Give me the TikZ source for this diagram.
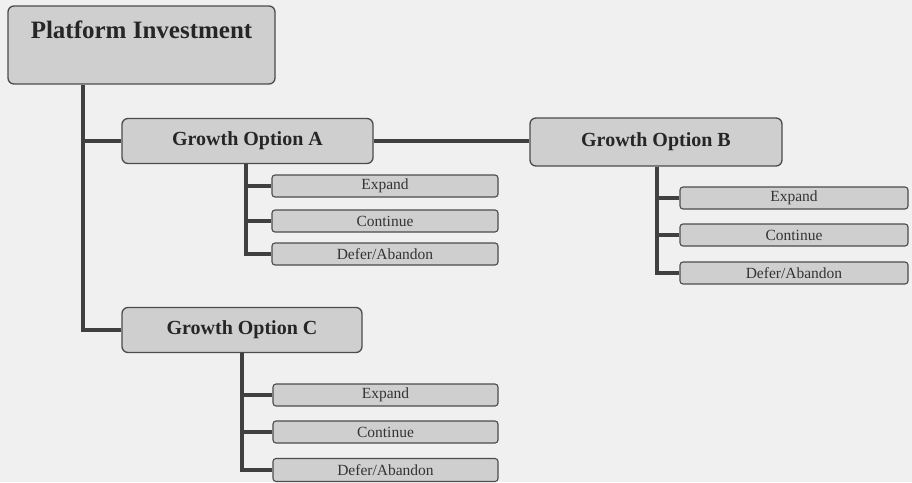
\documentclass[tikz,border=0pt]{standalone}
\usepackage{fontspec}
\setmainfont{Liberation Serif}
\usetikzlibrary{positioning}

\tikzset{
  bigbox/.style={draw=black!70,line width=1.3pt,fill=gray!38,rounded corners=6pt,inner sep=0pt},
  roottext/.style={font=\fontsize{25}{29}\selectfont\bfseries,text=black!85,inner sep=0pt},
  optbox/.style={bigbox,font=\fontsize{20}{24}\selectfont\bfseries,text=black!85,minimum height=45pt},
  subbox/.style={draw=black!70,line width=1.1pt,fill=gray!38,rounded corners=3pt,inner sep=0pt,
    font=\fontsize{15.5}{18}\selectfont,text=black!80,minimum height=22pt},
  link/.style={draw=black!75,line width=4pt}
}

\begin{document}
\begin{tikzpicture}[x=1pt,y=-1pt]
\useasboundingbox[fill=gray!12] (0,0) rectangle (912,482);

% top box
\node[bigbox,minimum width=267pt,minimum height=78pt] (plat) at (141.5,45) {};
\node[roottext] (platlbl) at (141.5,30) {Platform Investment};

% growth options
\node[optbox,minimum width=251pt] (optA) at (247.5,141) {Growth Option A};
\node[optbox,minimum width=252pt,minimum height=48pt] (optB) at (656,142) {Growth Option B};
\node[optbox,minimum width=240pt] (optC) at (242,330) {Growth Option C};

% choices under A
\node[subbox,minimum width=226pt] (aexp) at (385,186) {Expand};
\node[subbox,minimum width=226pt] (acont) at (385,221) {Continue};
\node[subbox,minimum width=226pt] (adef) at (385,254) {Defer/Abandon};

% choices under B
\node[subbox,minimum width=228pt] (bexp) at (794,198) {Expand};
\node[subbox,minimum width=228pt] (bcont) at (794,235) {Continue};
\node[subbox,minimum width=228pt] (bdef) at (794,273) {Defer/Abandon};

% choices under C
\node[subbox,minimum width=225pt] (cexp) at (385.5,395) {Expand};
\node[subbox,minimum width=225pt] (ccont) at (385.5,432) {Continue};
\node[subbox,minimum width=225pt,minimum height=23pt] (cdef) at (385.5,470) {Defer/Abandon};

% trunk
\draw[link] ([xshift=76pt]plat.south west) |- (optA.west);
\draw[link] ([xshift=76pt]plat.south west) |- (optC.west);
\draw[link] (optA.east) -- (optA.east -| optB.west);

\draw[link] ([xshift=-2pt]optA.south) |- (aexp.west);
\draw[link] ([xshift=-2pt]optA.south) |- (acont.west);
\draw[link] ([xshift=-2pt]optA.south) |- (adef.west);

\draw[link] ([xshift=1pt]optB.south) |- (bexp.west);
\draw[link] ([xshift=1pt]optB.south) |- (bcont.west);
\draw[link] ([xshift=1pt]optB.south) |- (bdef.west);

\draw[link] (optC.south) |- (cexp.west);
\draw[link] (optC.south) |- (ccont.west);
\draw[link] (optC.south) |- (cdef.west);
\end{tikzpicture}
\end{document}
